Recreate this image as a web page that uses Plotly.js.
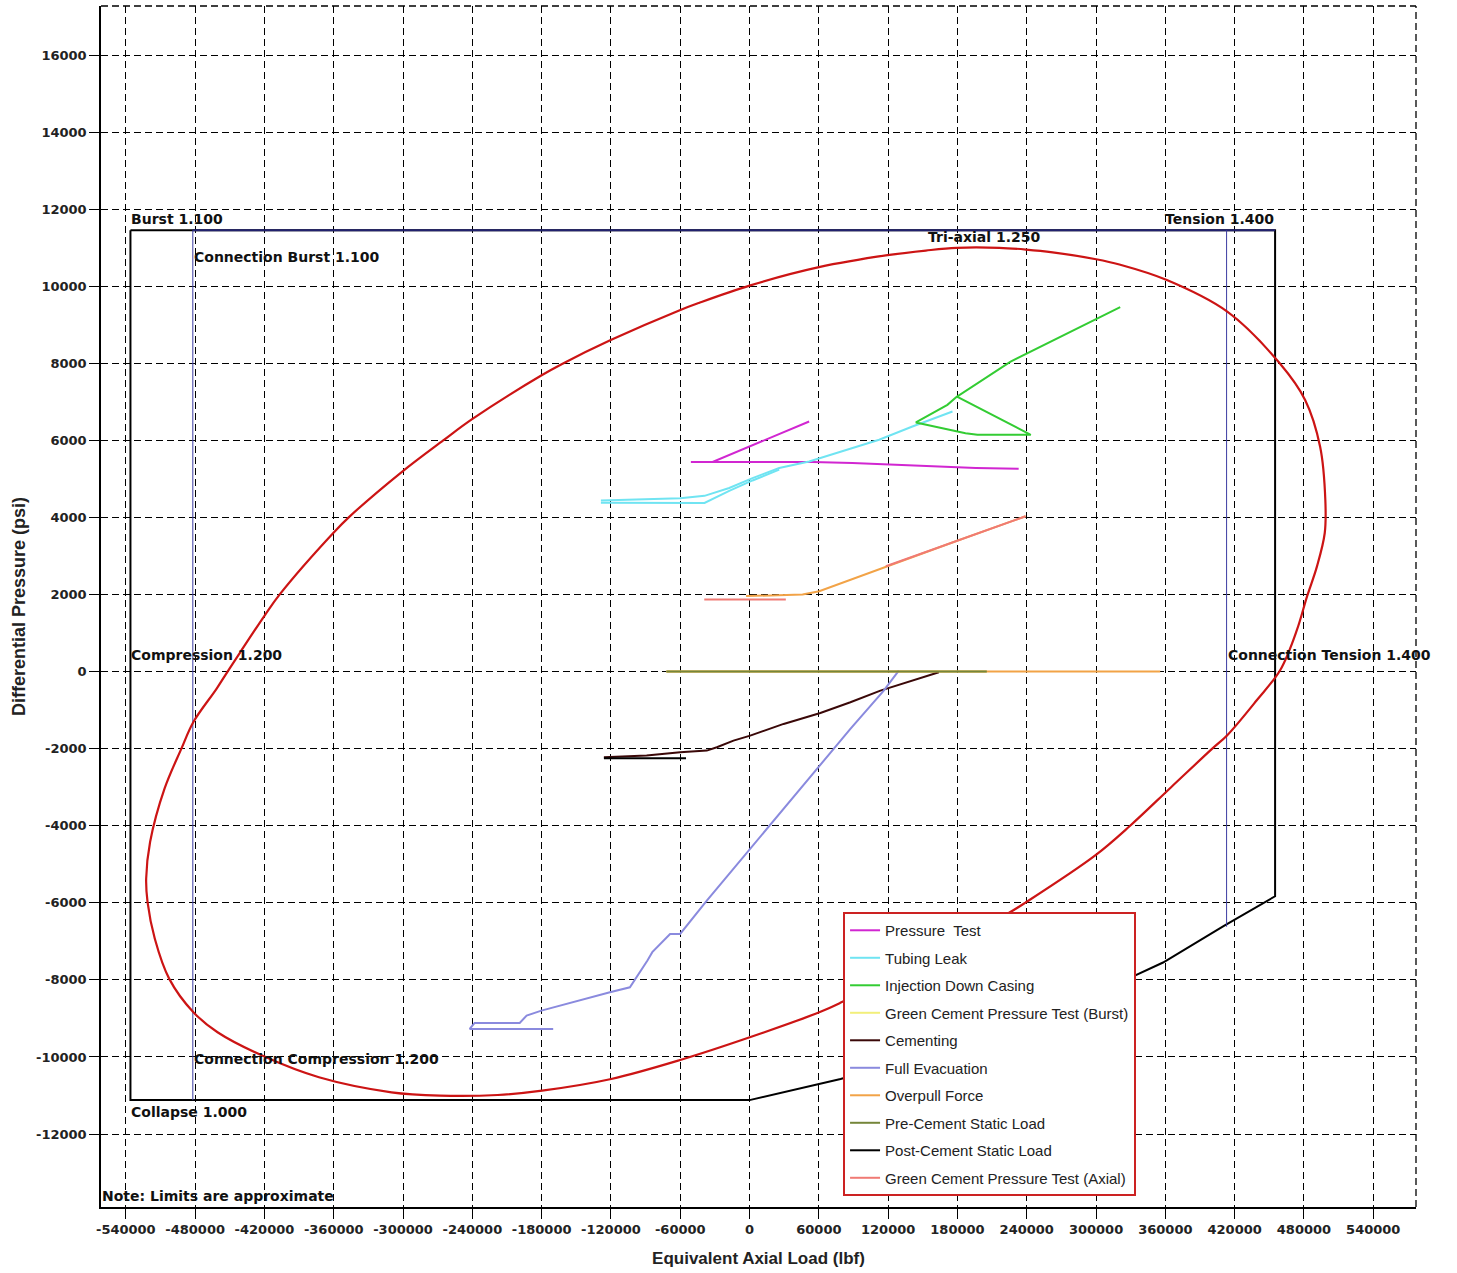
<!DOCTYPE html>
<html>
<head>
<meta charset="utf-8">
<script src="https://cdn.plot.ly/plotly-3.0.1.min.js"></script>
<style>html,body{margin:0;padding:0;background:#fff;}#chart{width:1457px;height:1273px;}</style>
</head>
<body>
<div id="chart"></div>
<script>
// ---- Tick labels ----
const xTickVals = [-540000,-480000,-420000,-360000,-300000,-240000,-180000,-120000,-60000,0,60000,120000,180000,240000,300000,360000,420000,480000,540000];
const xTickText = ["-540000","-480000","-420000","-360000","-300000","-240000","-180000","-120000","-60000","0","60000","120000","180000","240000","300000","360000","420000","480000","540000"];
const yTickVals = [-12000,-10000,-8000,-6000,-4000,-2000,0,2000,4000,6000,8000,10000,12000,14000,16000];
const yTickText = ["-12000","-10000","-8000","-6000","-4000","-2000","0","2000","4000","6000","8000","10000","12000","14000","16000"];

// ---- Design limit lines ----
const boxX = [-536000,-536000,0,40000,78800,160000,240000,327000,358000,410700,455000,455000,-536000];
const boxY = [11450,-11120,-11120,-10850,-10570,-9900,-9050,-7980,-7550,-6600,-5830,11450,11450];
const burstTopX = [-482000,455000];
const burstTopY = [11450,11450];
const connLeftX = [-482000,-482000];
const connLeftY = [11450,-11120];
const connRightX = [413000,413000];
const connRightY = [11450,-6620];

// ---- Tri-axial 1.250 envelope ----
const triX = [-461500,-451900,-441000,-420000,-406600,-360200,-346800,-300400,-265200,-240200,-180000,-161900,-120200,-60400,-43900,0,60100,119400,152600,179200,216200,239300,262400,300000,320200,361300,413600,459000,481000,494000,498500,498000,491200,482600,473900,459500,439300,413600,400600,365000,329500,299300,238600,224000,150000,79000,60400,200,-60000,-119800,-179600,-218100,-268200,-310000,-372800,-420000,-460600,-481500,-502400,-514900,-521200,-522400,-519000,-506500,-491900,-481500,-461500];
const triY = [-448,0,500,1448,2009,3603,4009,5198,6000,6552,7690,7990,8603,9379,9567,10017,10494,10805,10926,10996,10996,10952,10880,10700,10563,10160,9340,8000,7050,5836,4453,3596,2723,1944,1080,42,-737,-1650,-2000,-3000,-4000,-4770,-6000,-6272,-7500,-8590,-8840,-9489,-10078,-10571,-10874,-10987,-11004,-10918,-10528,-9991,-9359,-8840,-7974,-6935,-5983,-5377,-4424,-3039,-2000,-1307,-448];

// ---- Load cases ----
const pressureTestX = [51600,-32000,-50800,-32000,54500,89000,124000,158000,196000,233000];
const pressureTestY = [6490,5440,5440,5440,5436,5410,5370,5325,5285,5264];

const tubingLeakX = [-128700,-90000,-60000,-39000,-17600,2600,25700,51600,83400,112200,141000,175700,null,-128700,-60000,-39000,-17600,2600,25700];
const tubingLeakY = [4440,4480,4500,4560,4763,5022,5281,5454,5756,6015,6360,6748,null,4380,4378,4375,4690,4960,5240];

const injectionX = [320900,226000,179600,243500,197300,187000,144000,164000,171300,179600];
const injectionY = [9460,8043,7137,6144,6144,6187,6464,6791,6921,7137];

const gcBurstX = [-72000,205400];
const gcBurstY = [0,0];

const cementingX = [-126100,-89100,-60100,-37000,-28300,-13900,580,29500,61300,87300,113300,145200,163900];
const cementingY = [-2223,-2180,-2093,-2050,-1964,-1791,-1661,-1358,-1073,-796,-493,-190,-17];

const fullEvacX = [-170000,-242300,-238000,-199000,-193000,-180200,-120900,-103600,-88400,-84200,-68800,-60100,-37000,540,29500,61300,87300,116200,129200];
const fullEvacY = [-9273,-9273,-9117,-9117,-8927,-8798,-8322,-8192,-7497,-7281,-6808,-6808,-5943,-4602,-3564,-2439,-1488,-493,26];

const overpullX = [-3000,45900,60300,92000,118000,178600,239000,null,-72000,355500];
const overpullY = [1960,2000,2087,2432,2735,3383,4030,null,0,0];

const preCementX = [-72000,205400];
const preCementY = [0,0];

const postCementX = [-126100,-55000];
const postCementY = [-2250,-2250];

const gcAxialX = [-39200,31400,null,118000,178600,239000];
const gcAxialY = [1871,1871,null,2735,3383,4030];

const seriesNames = ["Pressure  Test","Tubing Leak","Injection Down Casing","Green Cement Pressure Test (Burst)","Cementing","Full Evacuation","Overpull Force","Pre-Cement Static Load","Post-Cement Static Load","Green Cement Pressure Test (Axial)"];
const seriesColors = ["#d126d1","#70e4f2","#33cc33","#f2ef7a","#3a0808","#8a8ade","#f2a347","#75863a","#000000","#f07a74"];
const seriesXs = [pressureTestX,tubingLeakX,injectionX,gcBurstX,cementingX,fullEvacX,overpullX,preCementX,postCementX,gcAxialX];
const seriesYs = [pressureTestY,tubingLeakY,injectionY,gcBurstY,cementingY,fullEvacY,overpullY,preCementY,postCementY,gcAxialY];

const traces = [];
traces.push({x: boxX, y: boxY, mode:'lines', line:{color:'#000', width:2}, showlegend:false, hoverinfo:'skip'});
traces.push({x: burstTopX, y: burstTopY, mode:'lines', line:{color:'#22226e', width:2}, showlegend:false, hoverinfo:'skip'});
traces.push({x: connLeftX, y: connLeftY, mode:'lines', line:{color:'#3c3ca2', width:1}, showlegend:false, hoverinfo:'skip'});
traces.push({x: connRightX, y: connRightY, mode:'lines', line:{color:'#3c3ca2', width:1}, showlegend:false, hoverinfo:'skip'});
traces.push({x: triX, y: triY, mode:'lines', line:{color:'#cc1414', width:2.2, shape:'spline', smoothing:1.0}, showlegend:false, hoverinfo:'skip'});
for (let i = 0; i < seriesNames.length; i++) {
  traces.push({x: seriesXs[i], y: seriesYs[i], name: seriesNames[i], mode:'lines',
    line:{color: seriesColors[i], width: 2}, legendgroup:'g'+i, connectgaps:false});
}

const annFont = {family:'DejaVu Sans', size:14, color:'#111', weight:'bold'};
function ann(text, x, y, xanchor, yanchor) {
  return {text:text, x:x, y:y, xref:'x', yref:'y', xanchor:xanchor, yanchor:yanchor||'middle', showarrow:false, font:annFont, borderpad:0};
}
const annotations = [
  ann('Burst 1.100', -536000, 11742, 'left'),
  ann('Connection Burst 1.100', -482000, 10759, 'left'),
  ann('Tri-axial 1.250', 153700, 11278, 'left'),
  ann('Tension 1.400', 455000, 11742, 'right'),
  ann('Compression 1.200', -536000, 431, 'left'),
  ann('Connection Tension 1.400', 413000, 431, 'left'),
  ann('Connection Compression 1.200', -482000, -10056, 'left'),
  ann('Collapse 1.000', -536000, -11432, 'left'),
  {text:'Note: Limits are approximate', x:0, y:-13608, xref:'paper', yref:'y', xanchor:'left', yanchor:'middle', showarrow:false, font:annFont, borderpad:0}
];

const layout = {
  width:1457, height:1273,
  margin:{l:101, r:41, t:6, b:66},
  paper_bgcolor:'#fff', plot_bgcolor:'#fff',
  showlegend:true,
  xaxis:{
    range:[-561500, 577000], tickmode:'array', tickvals:xTickVals, ticktext:xTickText,
    ticks:'outside', ticklen:10, tickcolor:'#000', tickwidth:1,
    showgrid:true, gridcolor:'#000', gridwidth:1.3, griddash:'7px,4px',
    zeroline:false, showline:true, linecolor:'#000', linewidth:1.5,
    tickfont:{family:'DejaVu Sans', size:13, color:'#222', weight:'bold'},
    title:{text:'Equivalent Axial Load (lbf)', font:{family:'Liberation Sans', size:17, color:'#222', weight:'bold'}, standoff:16}
  },
  yaxis:{
    range:[-13894, 17272], tickmode:'array', tickvals:yTickVals, ticktext:yTickText,
    ticks:'outside', ticklen:10, tickcolor:'#000', tickwidth:1,
    showgrid:true, gridcolor:'#000', gridwidth:1.3, griddash:'7px,4px',
    zeroline:false, showline:true, linecolor:'#000', linewidth:1.5,
    tickfont:{family:'DejaVu Sans', size:13, color:'#222', weight:'bold'},
    title:{text:'Differential Pressure (psi)', font:{family:'Liberation Sans', size:18, color:'#222', weight:'bold'}, standoff:6}
  },
  legend:{
    x:0.5643, y:0.2456, xanchor:'left', yanchor:'top',
    bgcolor:'#fff', bordercolor:'#cc2222', borderwidth:2,
    font:{family:'Liberation Sans', size:15, color:'#222'},
    traceorder:'grouped', tracegroupgap:5, itemwidth:30
  },
  shapes:[
    {type:'line', xref:'paper', yref:'paper', x0:1, x1:1, y0:0, y1:1, line:{color:'#000', width:1.3, dash:'7px,4px'}, layer:'below'},
    {type:'line', xref:'paper', yref:'paper', x0:0, x1:1, y0:1, y1:1, line:{color:'#000', width:1.3, dash:'7px,4px'}, layer:'below'}
  ],
  annotations:annotations
};

Plotly.newPlot('chart', traces, layout, {displayModeBar:false, responsive:false});
</script>
</body>
</html>
